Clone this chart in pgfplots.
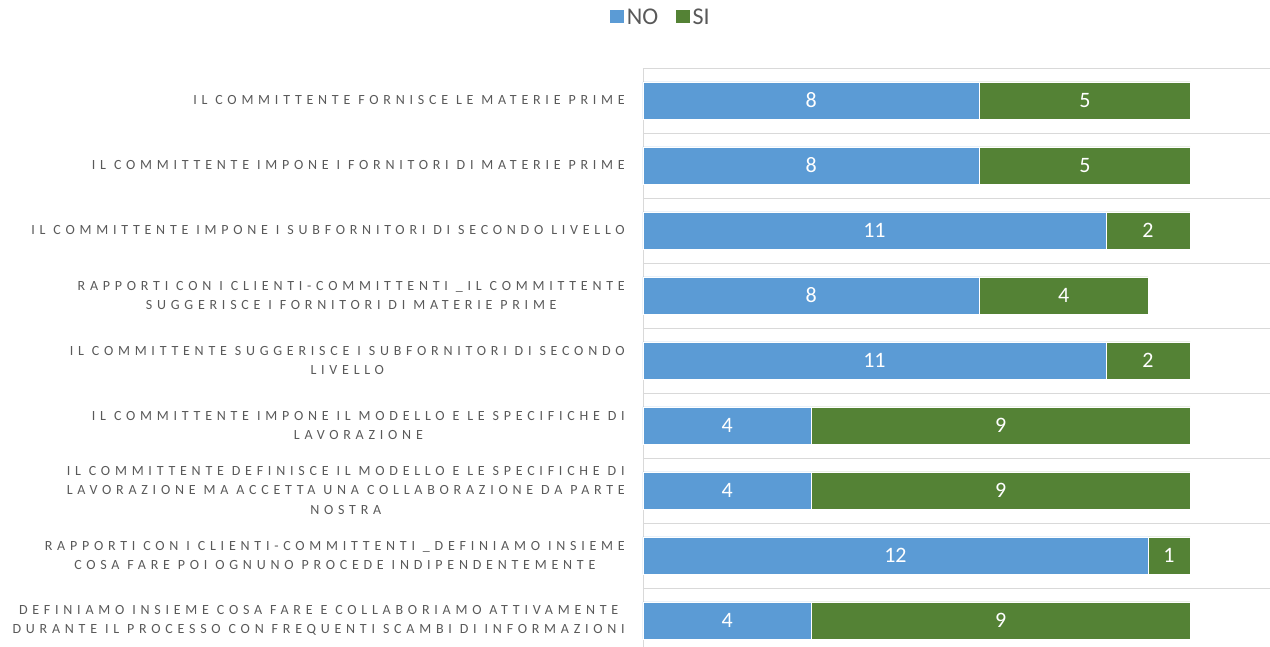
\documentclass[border=0pt]{standalone}
\usepackage{fontspec}
\usepackage{pgfplots}
\usepackage{pgfplotstable}
\pgfplotsset{compat=1.18}
\setmainfont{Carlito}
\newfontfamily\labfont[LetterSpace=34]{Carlito}
\definecolor{cno}{HTML}{5B9BD5}
\definecolor{csi}{HTML}{548235}
\definecolor{labgray}{HTML}{595959}
\definecolor{gridgray}{HTML}{D9D9D9}

\pgfplotstableread{
y no si
0 8 5
1 8 5
2 11 2
3 8 4
4 11 2
5 4 9
6 4 9
7 12 1
8 4 9
}\datatable

\begin{document}
\begin{tikzpicture}
\begin{axis}[
  scale only axis,
  width=627pt, height=585pt,
  xbar stacked,
  bar width=0.57,
  xmin=0, xmax=14.9,
  ymin=-0.5, ymax=8.5,
  y dir=reverse,
  axis x line=none,
  axis y line*=left,
  y axis line style={draw=gridgray, line width=0.8pt, -},
  ytick={0,...,8},
  minor ytick={-0.5,0.5,...,8.5},
  yminorgrids=true,
  minor grid style={draw=gridgray, line width=1pt},
  major tick length=0pt, minor tick length=0pt,
  yticklabels={
    {IL COMMITTENTE FORNISCE LE MATERIE PRIME},
    {IL COMMITTENTE IMPONE I FORNITORI DI MATERIE PRIME},
    {IL COMMITTENTE IMPONE I SUBFORNITORI DI SECONDO LIVELLO},
    {RAPPORTI CON I CLIENTI-COMMITTENTI \_IL COMMITTENTE\\SUGGERISCE I FORNITORI DI MATERIE PRIME},
    {IL COMMITTENTE SUGGERISCE I SUBFORNITORI DI SECONDO\\LIVELLO},
    {IL COMMITTENTE IMPONE IL MODELLO E LE SPECIFICHE DI\\LAVORAZIONE},
    {IL COMMITTENTE DEFINISCE IL MODELLO E LE SPECIFICHE DI\\LAVORAZIONE MA ACCETTA UNA COLLABORAZIONE DA PARTE\\NOSTRA},
    {RAPPORTI CON I CLIENTI-COMMITTENTI \_DEFINIAMO INSIEME\\COSA FARE POI OGNUNO PROCEDE INDIPENDENTEMENTE},
    {DEFINIAMO INSIEME COSA FARE E COLLABORIAMO ATTIVAMENTE\\DURANTE IL PROCESSO CON FREQUENTI SCAMBI DI INFORMAZIONI}
  },
  yticklabel style={align=center, font=\labfont\fontsize{14}{19.5}\selectfont, text=labgray, inner sep=0pt, xshift=-18pt},
  point meta=explicit symbolic,
  nodes near coords={\pgfplotspointmeta},
  every node near coord/.append style={anchor=center, inner sep=0pt, text=white, font=\fontsize{22}{24}\selectfont},
  legend columns=2,
  legend style={draw=none, fill=none, at={(axis description cs:0.0295,1.0872)}, anchor=center,
    font=\fontsize{24}{26}\selectfont, text=labgray,
    /tikz/every even column/.append style={column sep=15pt},
    inner sep=0pt, outer sep=0pt,
    nodes={inner sep=3pt}},
  legend image code/.code={\fill[#1, draw=none] (0pt,-6.5pt) rectangle (13.5pt,7pt);},
  legend cell align=left,
]
\addplot[fill=cno, draw=white, line width=0.6pt] table[x=no, y=y, meta=no] {\datatable};
\addplot[fill=csi, draw=white, line width=0.6pt] table[x=si, y=y, meta=si] {\datatable};
\legend{NO, SI}
\end{axis}
\pgfresetboundingbox
\useasboundingbox ([xshift=-643pt,yshift=6pt]current axis.south west) rectangle ([yshift=68pt]current axis.north east);
\end{tikzpicture}
\end{document}
